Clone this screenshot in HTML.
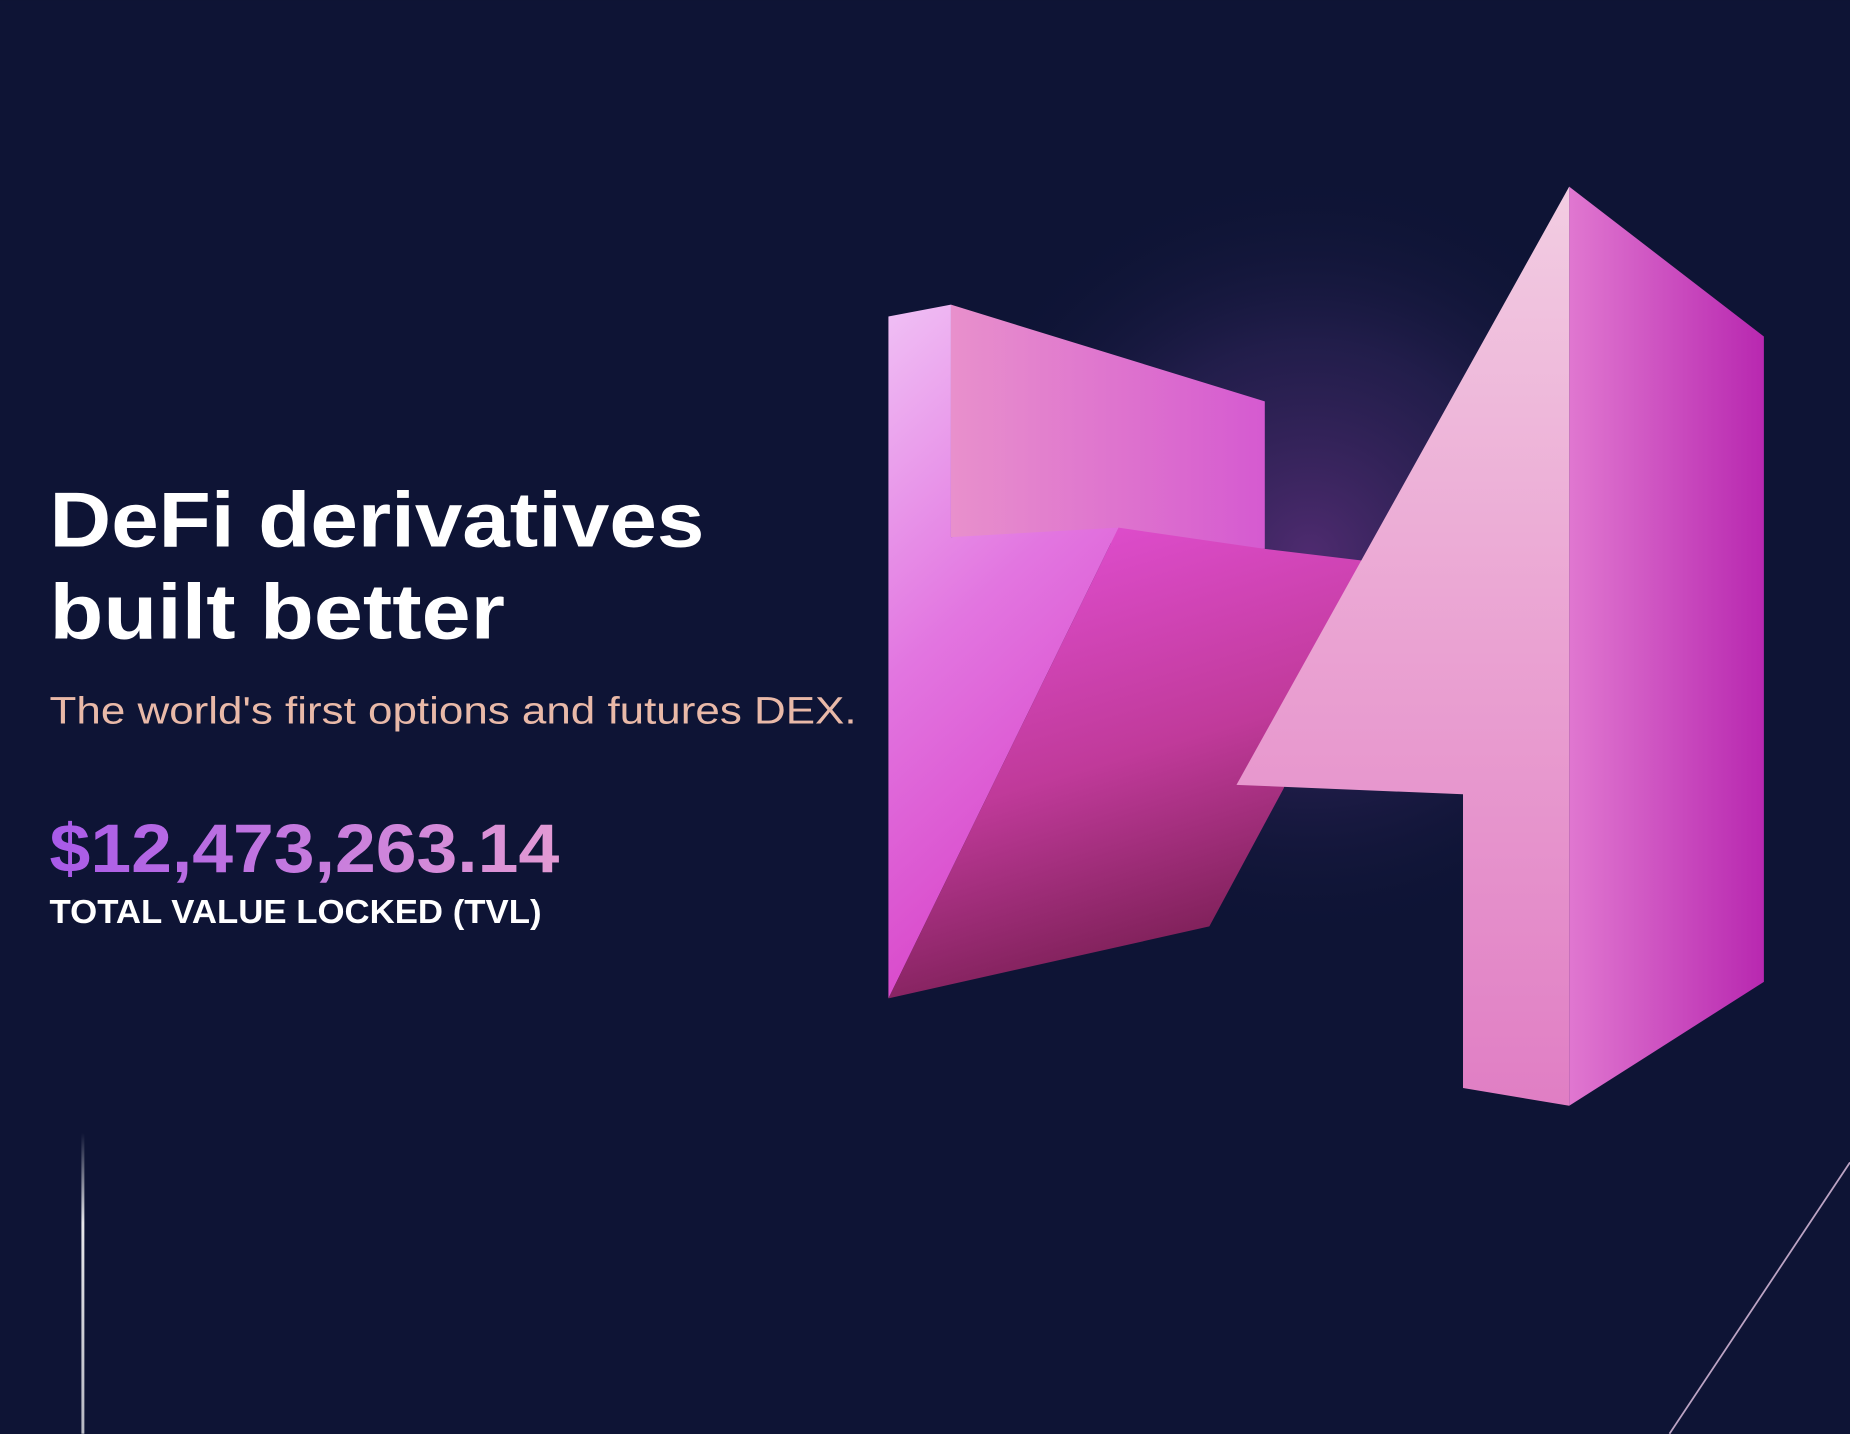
<!DOCTYPE html>
<html><head><meta charset="utf-8">
<style>
html,body{margin:0;padding:0;background:#0e1435;}
svg{display:block;}
</style></head>
<body>
<svg width="1850" height="1434" viewBox="0 0 1568 1215" xmlns="http://www.w3.org/2000/svg">
<defs>
<radialGradient id="glow" cx="1110" cy="470" r="330" gradientUnits="userSpaceOnUse">
<stop offset="0" stop-color="#5a2f7a" stop-opacity="0.85"/>
<stop offset="0.55" stop-color="#2e2358" stop-opacity="0.6"/>
<stop offset="1" stop-color="#0e1435" stop-opacity="0"/>
</radialGradient>
<linearGradient id="leftFace" x1="0" y1="0" x2="0.3" y2="1">
<stop offset="0" stop-color="#f0c0f5"/>
<stop offset="0.5" stop-color="#e275e0"/>
<stop offset="1" stop-color="#d844c8"/>
</linearGradient>
<linearGradient id="topFace" x1="0" y1="0" x2="1" y2="0">
<stop offset="0" stop-color="#e890cc"/>
<stop offset="1" stop-color="#d55ad0"/>
</linearGradient>
<linearGradient id="diagFace" x1="0.3" y1="0" x2="0.6" y2="1">
<stop offset="0" stop-color="#e04ed0"/>
<stop offset="0.5" stop-color="#c03a9a"/>
<stop offset="1" stop-color="#6e1a48"/>
</linearGradient>
<linearGradient id="frontFace" x1="0" y1="0" x2="0" y2="1">
<stop offset="0" stop-color="#f2cde2"/>
<stop offset="0.5" stop-color="#eaa2d2"/>
<stop offset="1" stop-color="#e07ec4"/>
</linearGradient>
<linearGradient id="sideFace" x1="0" y1="0" x2="1" y2="0">
<stop offset="0" stop-color="#e077d0"/>
<stop offset="1" stop-color="#b828b0"/>
</linearGradient>
<linearGradient id="tvlGrad" x1="0" y1="0" x2="1" y2="0">
<stop offset="0" stop-color="#a85ae8"/>
<stop offset="1" stop-color="#e29ad4"/>
</linearGradient>
<linearGradient id="vline" x1="0" y1="0" x2="0" y2="1">
<stop offset="0" stop-color="#ffffff" stop-opacity="0"/>
<stop offset="0.3" stop-color="#ffffff" stop-opacity="0.9"/>
<stop offset="1" stop-color="#ffffff" stop-opacity="0.7"/>
</linearGradient>
</defs>
<rect width="1568" height="1215" fill="#0e1435"/>
<circle cx="1110" cy="470" r="330" fill="url(#glow)"/>
<g>
<polygon points="806,258 1072,340 1072,465 806,455" fill="url(#topFace)"/>
<polygon points="753,268 806,258 806,455 948,447 753,846" fill="url(#leftFace)"/>
<polygon points="948,447 1072,465 1155,475 1088,668 1025,785 753,846" fill="url(#diagFace)"/>
<polygon points="1330,158 1495,285 1495,832 1330,937" fill="url(#sideFace)"/>
<polygon points="1330,158 1048,665 1240,673 1240,922 1330,937" fill="url(#frontFace)"/>
</g>
<rect x="69" y="960" width="2.5" height="255" fill="url(#vline)"/>
<line x1="1568" y1="985" x2="1415" y2="1215" stroke="#e8c8e8" stroke-width="1.5" opacity="0.8"/>
<text x="42" y="463" font-family="Liberation Sans, sans-serif" font-weight="bold" font-size="66" fill="#ffffff" textLength="555" lengthAdjust="spacingAndGlyphs">DeFi derivatives</text>
<text x="42" y="541" font-family="Liberation Sans, sans-serif" font-weight="bold" font-size="66" fill="#ffffff" textLength="386" lengthAdjust="spacingAndGlyphs">built better</text>
<text x="42" y="613" font-family="Liberation Sans, sans-serif" font-size="32" fill="#e9b9a8" textLength="684" lengthAdjust="spacingAndGlyphs">The world's first options and futures DEX.</text>
<text x="42" y="739" font-family="Liberation Sans, sans-serif" font-weight="bold" font-size="58" fill="url(#tvlGrad)" textLength="432" lengthAdjust="spacingAndGlyphs">$12,473,263.14</text>
<text x="42" y="782" font-family="Liberation Sans, sans-serif" font-weight="bold" font-size="28" fill="#ffffff" textLength="417" lengthAdjust="spacingAndGlyphs">TOTAL VALUE LOCKED (TVL)</text>
</svg>
</body></html>
